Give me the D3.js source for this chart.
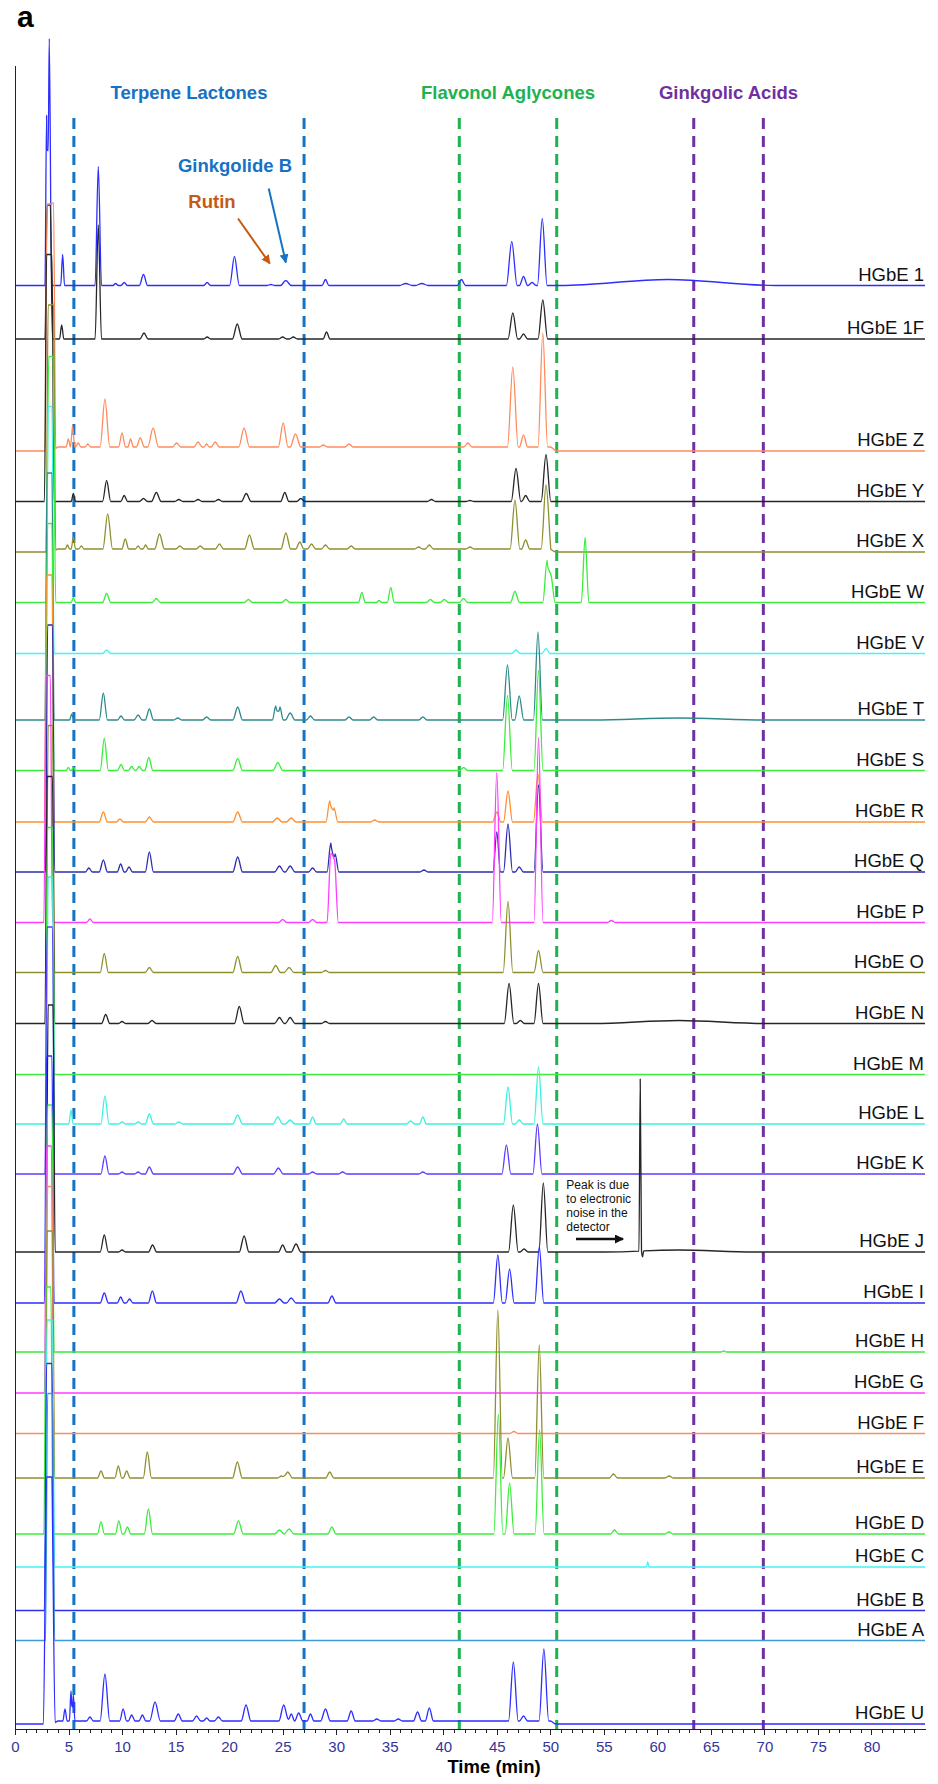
<!DOCTYPE html>
<html lang="en">
<head>
<meta charset="UTF-8">
<title>HGbE chromatograms</title>
<style>
  body { margin: 0; background: #fff; }
  svg { display: block; font-family: "Liberation Sans", Arial, sans-serif; }
  .trace { fill: none; stroke-width: 1.3px; stroke-linejoin: round; }
  .lbl { font-size: 18.5px; fill: #111; }
  .x.axis text { font-size: 15px; fill: #34349c; font-family: "Liberation Sans", Arial, sans-serif; }
  .axis path, .axis line { stroke: #222; shape-rendering: crispEdges; }
  .region { stroke-width: 3px; stroke-dasharray: 11,7; }
  .title { font-weight: bold; font-size: 18.5px; text-anchor: middle; }
</style>
</head>
<body>
<script src="https://cdnjs.cloudflare.com/ajax/libs/d3/7.8.5/d3.min.js"></script>
<script>
// sample names, top to bottom
var names = ["HGbE 1", "HGbE 1F", "HGbE Z", "HGbE Y", "HGbE X", "HGbE W", "HGbE V", "HGbE T",
  "HGbE S", "HGbE R", "HGbE Q", "HGbE P", "HGbE O", "HGbE N", "HGbE M", "HGbE L", "HGbE K",
  "HGbE J", "HGbE I", "HGbE H", "HGbE G", "HGbE F", "HGbE E", "HGbE D", "HGbE C", "HGbE B",
  "HGbE A", "HGbE U"];

// vertical offset of each chromatogram (intensity units)
var offsets = [1443.5, 1390, 1278, 1227.5, 1177, 1126.5, 1075.5, 1009, 958.5, 907, 857, 806.5,
  756.5, 705.5, 654.5, 605, 555, 477, 426, 377, 336, 295.5, 251, 195, 162, 118.5, 88.5, 5];

var colors = ["#2d2dff", "#262626", "#ff8a5c", "#262626", "#8f8f2f", "#3ded3d", "#40f5f5", "#2e8a8a",
  "#3ded3d", "#ff9030", "#2c2cb0", "#ff3cff", "#8f8f2f", "#262626", "#3ded3d", "#3cf2dc", "#5b3dff",
  "#262626", "#2d2dff", "#3ded3d", "#ff3cff", "#ff8a5c", "#8f8f2f", "#3ded3d", "#40f5f5", "#2d2dee",
  "#3d9ad6", "#2d2dff"];

// peaks: [retention time (min), height, half width (min), plateau (min)]
var pk_1 = [[2.95, 170, 0.15], [3.2, 247, 0.22], [4.45, 31, 0.18], [7.78, 119, 0.3], [9.4, 2, 0.25],
  [10.2, 3, 0.3], [12.0, 11, 0.38], [17.95, 3, 0.32], [20.5, 29, 0.45], [23.9, 1, 0.38], [25.3, 5, 0.5],
  [29.0, 6, 0.32], [36.5, 2, 0.6], [38.0, 2, 0.6], [41.7, 6, 0.38], [46.4, 44, 0.5], [47.5, 9, 0.38],
  [48.3, 3, 0.38], [49.25, 67, 0.45], [61, 6, 10]];
var pk_1F = [[3.0, 134, 0.2, 0.3], [4.36, 14, 0.2], [7.78, 114, 0.3], [12.05, 6, 0.38], [17.95, 2, 0.32],
  [20.76, 15, 0.45], [25.0, 2, 0.38], [26.0, 2, 0.38], [29.1, 7, 0.32], [46.5, 26, 0.45], [47.5, 5, 0.38],
  [49.3, 39, 0.45]];
var pk_Z = [[3.0, 247, 0.2, 0.6], [4.0, 4, 0.6, 46], [4.98, 8, 0.2], [5.38, 21, 0.2], [5.9, 4, 0.25],
  [6.8, 3, 0.25], [8.4, 48, 0.45], [10.0, 14, 0.32], [10.8, 8, 0.25], [11.7, 9, 0.38], [12.9, 19, 0.5],
  [15.1, 4, 0.38], [17.1, 5, 0.38], [17.9, 3, 0.25], [18.7, 5, 0.38], [21.4, 19, 0.5], [25.05, 24, 0.45],
  [26.2, 13, 0.5], [28.8, 2, 0.38], [31.2, 3, 0.38], [42.3, 4, 0.38], [46.5, 80, 0.5], [47.5, 12, 0.38],
  [49.3, 114, 0.45]];
var pk_Y = [[2.95, 247, 0.2, 0.5], [5.45, 8, 0.2], [8.56, 21, 0.38], [10.2, 6, 0.32], [12.0, 3, 0.38],
  [13.2, 9, 0.45], [15.3, 2, 0.38], [17.1, 2, 0.38], [19.0, 2, 0.38], [21.6, 8, 0.45], [25.2, 9, 0.38],
  [26.7, 3, 0.38], [38.9, 2, 0.38], [42.5, 1, 0.38], [46.8, 33, 0.45], [47.7, 6, 0.38], [49.6, 47, 0.45]];
var pk_X = [[3.1, 247, 0.2, 0.5], [4.0, 3, 0.6, 46], [4.9, 4, 0.2], [5.45, 12, 0.2], [6.2, 3, 0.25],
  [8.66, 35, 0.45], [10.3, 10, 0.32], [11.5, 3, 0.25], [12.2, 4, 0.25], [13.5, 15, 0.45], [15.4, 3, 0.38],
  [17.3, 3, 0.38], [19.1, 5, 0.38], [21.9, 14, 0.45], [25.3, 16, 0.45], [26.6, 7, 0.38], [27.7, 5, 0.38],
  [29.0, 4, 0.38], [31.4, 3, 0.38], [37.7, 2, 0.38], [38.7, 4, 0.38], [42.5, 2, 0.38], [46.7, 49, 0.45],
  [47.7, 9, 0.38], [49.6, 64, 0.45]];
var pk_W = [[3.15, 246, 0.25, 0.4], [5.45, 5, 0.2], [8.56, 9, 0.38], [13.2, 4, 0.38], [21.8, 3, 0.38],
  [25.3, 3, 0.38], [32.4, 10, 0.32], [34.0, 2, 0.25], [35.1, 15, 0.32], [38.8, 3, 0.38], [40.1, 3, 0.38],
  [41.9, 4, 0.38], [46.7, 11, 0.42], [49.7, 42, 0.4], [50.1, 26, 0.35], [53.25, 65, 0.35]];
var pk_V = [[3.1, 247, 0.2, 0.35], [8.56, 3.5, 0.38], [46.8, 3.5, 0.38], [49.6, 5, 0.38]];
var pk_T = [[3.0, 247, 0.2, 0.45], [5.3, 6, 0.2], [8.25, 27, 0.38], [9.9, 4, 0.32], [11.5, 5, 0.38],
  [12.55, 11, 0.38], [15.2, 2, 0.38], [17.9, 3, 0.38], [20.8, 13, 0.45], [24.35, 14, 0.3], [24.75, 13, 0.3],
  [25.7, 7, 0.45], [27.6, 4, 0.38], [31.2, 3, 0.38], [33.5, 3, 0.38], [38.1, 3, 0.38], [46.0, 55, 0.45],
  [47.1, 24, 0.42], [48.85, 88, 0.42], [62, 2, 8]];
var pk_S = [[3.05, 247, 0.2, 0.4], [4.98, 3, 0.2], [5.45, 3, 0.2], [8.34, 32, 0.38], [9.9, 6, 0.32],
  [10.9, 4, 0.32], [11.6, 4, 0.32], [12.5, 13, 0.38], [20.8, 12, 0.45], [24.55, 8, 0.45], [41.9, 3, 0.38],
  [46.0, 75, 0.45], [48.9, 100, 0.42]];
var pk_R = [[2.95, 247, 0.2, 0.5], [8.25, 10, 0.38], [9.8, 3, 0.32], [12.55, 5, 0.38], [20.8, 10, 0.45],
  [24.5, 4, 0.45], [25.8, 4, 0.45], [29.4, 21, 0.35], [29.8, 14, 0.35], [33.6, 2, 0.38], [45.0, 10, 0.38],
  [46.05, 31, 0.42], [48.85, 48, 0.42]];
var pk_Q = [[3.05, 247, 0.2, 0.45], [6.9, 4, 0.32], [8.25, 12, 0.38], [9.87, 8, 0.32], [10.65, 5, 0.32],
  [12.55, 20, 0.38], [20.8, 15, 0.45], [24.7, 6, 0.45], [25.7, 6, 0.45], [27.8, 4, 0.38], [29.5, 29, 0.35],
  [29.9, 18, 0.35], [38.2, 2, 0.38], [45.0, 40, 0.35], [46.05, 48, 0.42], [47.1, 5, 0.38], [48.9, 87, 0.42]];
var pk_P = [[2.9, 247, 0.2, 0.4], [7.0, 3.5, 0.32], [25.0, 3, 0.38], [27.8, 3, 0.38], [29.5, 69, 0.35],
  [29.85, 62, 0.35], [45.0, 150, 0.42], [48.9, 185, 0.42], [55.7, 2, 0.38]];
var pk_O = [[3.1, 247, 0.2, 0.4], [8.34, 19, 0.38], [12.55, 5, 0.38], [20.8, 16, 0.45], [24.35, 7, 0.45],
  [25.6, 5, 0.45], [29.0, 2, 0.38], [46.05, 71, 0.45], [48.9, 22, 0.42]];
var pk_N = [[3.0, 247, 0.2, 0.5], [8.47, 9, 0.38], [10.0, 2, 0.32], [12.8, 3, 0.38], [20.95, 17, 0.45],
  [24.7, 6, 0.45], [25.7, 6, 0.45], [29.0, 2, 0.38], [46.15, 40, 0.45], [47.2, 3, 0.38], [48.9, 40, 0.42],
  [62, 3, 8]];
var pk_M = [[3.05, 247, 0.2, 0.45]];
var pk_L = [[3.1, 247, 0.2, 0.4], [5.23, 14, 0.2], [8.4, 28, 0.38], [10.0, 2, 0.32], [11.5, 2, 0.32],
  [12.55, 10, 0.38], [15.3, 2, 0.38], [20.8, 9, 0.45], [24.55, 7, 0.45], [25.7, 4, 0.45], [27.8, 7, 0.32],
  [30.7, 5, 0.32], [36.95, 3, 0.38], [38.1, 7, 0.32], [46.05, 37, 0.42], [47.1, 4, 0.38], [48.9, 57, 0.42]];
var pk_K = [[3.0, 247, 0.2, 0.5], [8.4, 18, 0.38], [10.0, 2, 0.32], [11.5, 2, 0.32], [12.55, 7, 0.38],
  [20.8, 7, 0.45], [24.6, 6, 0.45], [27.8, 2, 0.38], [30.6, 2, 0.38], [38.1, 2, 0.38], [45.9, 29, 0.42],
  [48.8, 50, 0.42]];
var pk_J = [[3.1, 247, 0.2, 0.45], [8.34, 17, 0.38], [10.0, 2, 0.32], [12.85, 7, 0.38], [21.4, 16, 0.45],
  [25.0, 7, 0.38], [26.25, 8, 0.45], [46.55, 47, 0.45], [47.55, 3, 0.38], [49.35, 69, 0.42],
  [58.4, 172, 0.12], [58.62, -6, 0.1], [62, 2, 7]];
var pk_I = [[2.95, 247, 0.2, 0.5], [8.34, 10, 0.38], [9.87, 6, 0.32], [10.7, 4, 0.32], [12.83, 12, 0.38],
  [21.1, 12, 0.45], [24.7, 4, 0.45], [25.8, 5, 0.45], [29.6, 7, 0.38], [45.1, 48, 0.42], [46.2, 34, 0.42],
  [48.97, 56, 0.42]];
var pk_H = [[3.05, 247, 0.2, 0.4], [66.2, 1, 0.25]];
var pk_G = [[2.95, 247, 0.2, 0.45]];
var pk_F = [[3.05, 247, 0.2, 0.4], [46.6, 2, 0.38]];
var pk_E = [[3.0, 247, 0.2, 0.5], [8.03, 7, 0.32], [9.65, 12, 0.32], [10.43, 7, 0.32], [12.36, 26, 0.38],
  [20.77, 16, 0.45], [24.9, 2, 0.38], [25.47, 6, 0.45], [29.4, 6, 0.38], [45.1, 168, 0.42],
  [46.05, 40, 0.42], [48.97, 133, 0.42], [55.9, 4, 0.38], [61.1, 2, 0.38]];
var pk_D = [[2.9, 247, 0.2, 0.45], [8.03, 12, 0.32], [9.7, 13, 0.32], [10.5, 7, 0.32], [12.46, 25, 0.38],
  [20.87, 13, 0.45], [24.7, 4, 0.45], [25.6, 5, 0.45], [29.6, 7, 0.38], [45.15, 120, 0.42],
  [46.2, 51, 0.42], [49.0, 104, 0.42], [56.0, 4, 0.38], [61.1, 2, 0.38]];
var pk_C = [[3.0, 247, 0.2, 0.5], [59.1, 5, 0.12]];
var pk_B = [[2.95, 247, 0.2, 0.5]];
var pk_A = [[3.05, 247, 0.2, 0.45]];
var pk_U = [[2.95, 247, 0.3, 0.5], [4.0, 3, 0.5, 46], [4.67, 12, 0.2], [5.23, 30, 0.15], [5.45, 26, 0.15],
  [7.0, 4, 0.32], [8.4, 47, 0.45], [10.1, 12, 0.32], [10.9, 6, 0.32], [11.9, 6, 0.32], [13.08, 19, 0.5],
  [15.25, 7, 0.38], [16.96, 5, 0.38], [17.9, 3, 0.32], [19.0, 4, 0.38], [21.58, 16, 0.45], [25.1, 16, 0.45],
  [25.8, 7, 0.32], [26.5, 8, 0.38], [27.6, 7, 0.32], [29.0, 12, 0.45], [31.4, 10, 0.38], [33.8, 2, 0.38],
  [35.8, 2, 0.38], [37.6, 9, 0.38], [38.7, 13, 0.38], [46.55, 59, 0.45], [47.5, 5, 0.38], [49.4, 72, 0.45]];

var peakLists = [pk_1, pk_1F, pk_Z, pk_Y, pk_X, pk_W, pk_V, pk_T, pk_S, pk_R, pk_Q, pk_P, pk_O, pk_N,
  pk_M, pk_L, pk_K, pk_J, pk_I, pk_H, pk_G, pk_F, pk_E, pk_D, pk_C, pk_B, pk_A, pk_U];

// compound class windows (min)
var regionNames = ["Terpene Lactones", "Flavonol Aglycones", "Ginkgolic Acids"];
var regionStart = [5.5, 41.5, 63.4];
var regionEnd = [27.0, 50.6, 69.9];
var regionColors = ["#1572c4", "#20b24f", "#7030a0"];

var tickValues = d3.range(0, 81, 5);

var W = 938, H = 1784;
var margin = {top: 65, right: 13, bottom: 55, left: 15};

var x = d3.scaleLinear().domain([0, 85]).range([margin.left, W - margin.right]);
var y = d3.scaleLinear().domain([0, 1664]).range([H - margin.bottom, margin.top]);

var svg = d3.select("body").append("svg")
  .attr("width", W)
  .attr("height", H);

var defs = svg.append("defs");
function arrowHead(id, color) {
  defs.append("marker")
    .attr("id", id)
    .attr("viewBox", "0 0 10 10")
    .attr("refX", 9).attr("refY", 5)
    .attr("markerWidth", 9).attr("markerHeight", 9)
    .attr("markerUnits", "userSpaceOnUse")
    .attr("orient", "auto")
    .append("path")
    .attr("d", "M0,0L10,5L0,10z")
    .attr("fill", color);
}
arrowHead("ahBlue", "#1572c4");
arrowHead("ahOrange", "#c55a11");
arrowHead("ahBlack", "#111");

// sum of trapezoid/triangle peaks on a flat baseline
function peakValue(p, t) {
  var t0 = p[0], h = p[1], w = p[2], f = p[3] || 0;
  if (t <= t0 - w || t >= t0 + f + w) return 0;
  if (t < t0) return h * (t - (t0 - w)) / w;
  if (t <= t0 + f) return h;
  return h * (t0 + f + w - t) / w;
}
function tracePoints(peaks, base) {
  var ts = [0, 85];
  peaks.forEach(function (p) {
    var f = p[3] || 0;
    ts.push(p[0] - p[2], p[0], p[0] + f, p[0] + f + p[2]);
  });
  ts = Array.from(new Set(ts.map(function (t) { return Math.round(t * 1e4) / 1e4; })))
    .filter(function (t) { return t >= 0 && t <= 85; })
    .sort(d3.ascending);
  return ts.map(function (t) {
    return [t, base + d3.sum(peaks, function (p) { return peakValue(p, t); })];
  });
}

var line = d3.line()
  .x(function (d) { return x(d[0]); })
  .y(function (d) { return y(d[1]); })
  .curve(d3.curveMonotoneX);

// region dashed lines
regionNames.forEach(function (r, i) {
  [regionStart[i], regionEnd[i]].forEach(function (t) {
    svg.append("line")
      .attr("class", "region")
      .attr("x1", x(t)).attr("x2", x(t))
      .attr("y1", 118).attr("y2", y(0))
      .attr("stroke", regionColors[i]);
  });
  svg.append("text")
    .attr("class", "title")
    .attr("x", x((regionStart[i] + regionEnd[i]) / 2))
    .attr("y", 99)
    .attr("fill", regionColors[i])
    .text(r);
});

// chromatograms
var g = svg.append("g");
names.forEach(function (n, i) {
  g.append("path")
    .attr("class", "trace")
    .attr("stroke", colors[i])
    .attr("d", line(tracePoints(peakLists[i], offsets[i])));
  svg.append("text")
    .attr("class", "lbl")
    .attr("x", 924)
    .attr("y", y(offsets[i]) - 5)
    .attr("text-anchor", "end")
    .text(n);
});

// axes
svg.append("g")
  .attr("class", "x axis")
  .attr("transform", "translate(0," + y(0) + ")")
  .call(d3.axisBottom(x).tickValues(d3.range(0, 85)).tickSize(3.5).tickSizeOuter(0).tickFormat(""));
svg.append("g")
  .attr("class", "x axis")
  .attr("transform", "translate(0," + y(0) + ")")
  .call(d3.axisBottom(x).tickValues(tickValues).tickSize(6).tickSizeOuter(0).tickPadding(6));
svg.append("g")
  .attr("class", "y axis")
  .attr("transform", "translate(" + x(0) + ",0)")
  .call(d3.axisLeft(y).tickValues([]).tickSizeOuter(0));

svg.append("text")
  .attr("x", 494).attr("y", 1773)
  .attr("text-anchor", "middle")
  .style("font-weight", "bold").style("font-size", "18.5px")
  .text("Time (min)");

svg.append("text")
  .attr("x", 17).attr("y", 27)
  .style("font-weight", "bold").style("font-size", "30px")
  .text("a");

// peak annotations on HGbE 1
var base1 = offsets[0];
svg.append("text").attr("class", "title").attr("x", 235).attr("y", 172)
  .attr("fill", "#1572c4").text("Ginkgolide B");
svg.append("text").attr("class", "title").attr("x", 212).attr("y", 208)
  .attr("fill", "#c55a11").text("Rutin");
svg.append("line")
  .attr("x1", x(20.83)).attr("y1", y(base1 + 67))
  .attr("x2", x(23.8)).attr("y2", y(base1 + 22))
  .attr("stroke", "#c55a11").attr("stroke-width", 2)
  .attr("marker-end", "url(#ahOrange)");
svg.append("line")
  .attr("x1", x(23.7)).attr("y1", y(base1 + 97))
  .attr("x2", x(25.3)).attr("y2", y(base1 + 23))
  .attr("stroke", "#1572c4").attr("stroke-width", 2)
  .attr("marker-end", "url(#ahBlue)");

// detector noise note on HGbE J
var baseJ = offsets[17];
var note = ["Peak is due", "to electronic", "noise in the", "detector"];
note.forEach(function (s, i) {
  svg.append("text")
    .attr("x", x(51.5))
    .attr("y", y(baseJ + 63 - i * 14))
    .style("font-size", "12px").attr("fill", "#111")
    .text(s);
});
svg.append("line")
  .attr("x1", x(52.4)).attr("y1", y(baseJ + 13))
  .attr("x2", x(56.8)).attr("y2", y(baseJ + 13))
  .attr("stroke", "#111").attr("stroke-width", 2.5)
  .attr("marker-end", "url(#ahBlack)");
</script>
</body>
</html>
